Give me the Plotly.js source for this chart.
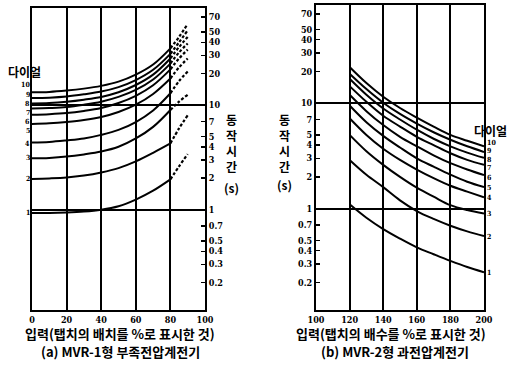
<!DOCTYPE html>
<html><head><meta charset="utf-8">
<script src="https://cdn.plot.ly/plotly-3.0.1.min.js"></script>
<style>body{margin:0;background:#fff}#c{width:512px;height:374px}</style>
</head><body><div id="c"></div>
<script>
// ---- data: (a) MVR-1 under-voltage relay ----
const leftX = [0, 10, 20, 30, 40, 50, 60, 70, 80];
const leftDashX = [80, 85, 90];
const dialNames = ['1','2','3','4','5','6','7','8','9','10'];
const L1  = [0.93, 0.93, 0.94, 0.96, 1.0, 1.08, 1.25, 1.52, 1.95];
const L2  = [1.97, 1.99, 2.03, 2.12, 2.27, 2.5, 2.9, 3.5, 4.3];
const L3  = [3.1, 3.13, 3.22, 3.38, 3.6, 4.0, 4.8, 6.2, 9];
const L4  = [4.4, 4.45, 4.6, 4.8, 5.2, 5.8, 6.9, 8.9, 13];
const L5  = [6.6, 6.7, 6.9, 7.2, 7.7, 8.6, 10.1, 12.8, 18];
const L6  = [8.1, 8.2, 8.4, 8.8, 9.4, 10.5, 12.3, 15.5, 22];
const L7  = [9.3, 9.4, 9.6, 10.1, 10.8, 12.0, 14.0, 17.6, 25];
const L8  = [10.4, 10.5, 10.8, 11.3, 12.0, 13.3, 15.6, 19.6, 28];
const L9  = [11.7, 11.8, 12.1, 12.7, 13.5, 14.9, 17.4, 21.8, 31];
const L10 = [13.3, 13.4, 13.8, 14.4, 15.3, 16.8, 19.6, 24.5, 35];
const LD1  = [1.95, 2.6, 3.4];
const LD2  = [4.3, 6.0, 8.0];
const LD3  = [9, 10.8, 12.6];
const LD4  = [13, 17, 21];
const LD5  = [18, 23, 28];
const LD6  = [22, 28, 34];
const LD7  = [25, 32, 39];
const LD8  = [28, 36, 45];
const LD9  = [31, 40, 52];
const LD10 = [35, 45, 60];
// ---- data: (b) MVR-2 over-voltage relay ----
const rightX = [120, 130, 140, 150, 160, 170, 180, 190, 200];
const R1  = [1.1, 0.82, 0.64, 0.52, 0.43, 0.37, 0.32, 0.28, 0.25];
const R2  = [2.9, 2.1, 1.6, 1.2, 0.95, 0.8, 0.69, 0.61, 0.55];
const R3  = [5.0, 3.5, 2.6, 2.0, 1.58, 1.3, 1.08, 0.97, 0.9];
const R4  = [7.2, 5.0, 3.7, 2.9, 2.35, 1.95, 1.65, 1.45, 1.28];
const R5  = [9.5, 6.6, 4.9, 3.8, 3.0, 2.5, 2.1, 1.8, 1.6];
const R6  = [12, 8.4, 6.2, 4.8, 3.9, 3.2, 2.7, 2.35, 2.08];
const R7  = [14.5, 10.3, 7.6, 6.0, 4.8, 4.0, 3.35, 2.9, 2.6];
const R8  = [17, 12, 8.9, 7.0, 5.6, 4.6, 3.9, 3.4, 3.03];
const R9  = [19, 13.6, 10.1, 7.9, 6.4, 5.3, 4.5, 3.9, 3.45];
const R10 = [22, 15.5, 11.5, 9.0, 7.3, 6.0, 5.0, 4.4, 3.9];
const yTickVals = [0.2, 0.3, 0.4, 0.5, 0.7, 1, 2, 3, 4, 5, 7, 10, 20, 30, 40, 50, 70];
const yTickText = ['0.2','0.3','0.4','0.5','0.7','1','2','3','4','5','7','10','20','30','40','50','70'];
const leftXTicks = [0, 20, 40, 60, 80, 100];
const rightXTicks = [100, 120, 140, 160, 180, 200];

// label spreading offsets (pixels, up = positive), dial 1..10
const leftLabelShift  = [0, 0, 1, -1, -6, -7, -4, 0, 4, 8];
const rightLabelShift = [0, 0, 0, 0, 0, -2, -3, -2, 1, 4];

const leftSolid = [L1,L2,L3,L4,L5,L6,L7,L8,L9,L10];
const leftDash = [LD1,LD2,LD3,LD4,LD5,LD6,LD7,LD8,LD9,LD10];
const rightSolid = [R1,R2,R3,R4,R5,R6,R7,R8,R9,R10];

const traces = [];
leftSolid.forEach(s => traces.push({x:leftX, y:s, xaxis:'x', yaxis:'y', mode:'lines',
  line:{color:'#000', width:2, shape:'spline'}, hoverinfo:'skip', showlegend:false}));
leftDash.forEach(s => traces.push({x:leftDashX, y:s, xaxis:'x', yaxis:'y', mode:'lines',
  line:{color:'#000', width:2.2, dash:'3px,2px', shape:'spline'}, hoverinfo:'skip', showlegend:false}));
rightSolid.forEach(s => traces.push({x:rightX, y:s, xaxis:'x2', yaxis:'y2', mode:'lines',
  line:{color:'#000', width:2, shape:'spline'}, hoverinfo:'skip', showlegend:false}));

const lblFont = {family:'DejaVu Serif Condensed, DejaVu Serif, serif', size:7, color:'#000', weight:'bold'};
const tickFont = {family:'DejaVu Serif Condensed, DejaVu Serif, serif', size:9, color:'#000', weight:'bold'};
const axisLine = {showline:true, mirror:true, linecolor:'#000', linewidth:2, zeroline:false};
const yBase = Object.assign({type:'log', range:[-0.96, 1.93], tickmode:'array', tickvals:yTickVals,
  ticktext:yTickText, ticks:'inside', ticklen:4, tickwidth:1.5, tickcolor:'#000', showgrid:false,
  tickfont:tickFont, minor:{tickmode:'array', tickvals:[1,10], showgrid:true, gridcolor:'#000', gridwidth:2, ticks:''}}, axisLine);
const xBase = Object.assign({tickmode:'array', showgrid:true, gridcolor:'#000', gridwidth:2, ticks:'',
  tickfont:tickFont}, axisLine);

const dialAnnots = [];
leftSolid.forEach((s, i) => dialAnnots.push({x:leftX[0], y:Math.log10(s[0]), xref:'x', yref:'y',
  text:dialNames[i], showarrow:false, xanchor:'right', yanchor:'middle', xshift:-1, yshift:leftLabelShift[i],
  font:lblFont, borderpad:0}));
rightSolid.forEach((s, i) => dialAnnots.push({x:rightX[rightX.length-1], y:Math.log10(s[s.length-1]), xref:'x2', yref:'y2',
  text:dialNames[i], showarrow:false, xanchor:'left', yanchor:'middle', xshift:2, yshift:rightLabelShift[i],
  font:lblFont, borderpad:0}));

const kr = {family:'Noto Sans CJK KR', size:12, color:'#000', weight:'bold'};
const krBig = {family:'Noto Sans CJK KR', size:13, color:'#000', weight:'bold'};
const layout = {
  width:512, height:374, margin:{l:0, r:0, t:0, b:0},
  paper_bgcolor:'#fff', plot_bgcolor:'#fff', showlegend:false,
  xaxis: Object.assign({}, xBase, {domain:[32/512, 205/512], range:[0,100], tickvals:leftXTicks, anchor:'y'}),
  yaxis: Object.assign({}, yBase, {domain:[1-310/374, 1-8/374], side:'right', anchor:'x'}),
  xaxis2: Object.assign({}, xBase, {domain:[316/512, 484/512], range:[100,200], tickvals:rightXTicks, anchor:'y2'}),
  yaxis2: Object.assign({}, yBase, {domain:[1-310/374, 1-5/374], side:'left', anchor:'x2'}),
  annotations: dialAnnots.concat([
    {text:'다이얼', x:24/512, y:1-71/374, xref:'paper', yref:'paper', showarrow:false, font:kr, xanchor:'center', yanchor:'middle'},
    {text:'다이얼', x:490/512, y:1-130/374, xref:'paper', yref:'paper', showarrow:false, font:kr, xanchor:'center', yanchor:'middle'},
    {text:'동<br>작<br>시<br>간', x:231/512, y:1-143/374, xref:'paper', yref:'paper', showarrow:false, font:kr, xanchor:'center', yanchor:'middle'},
    {text:'(s)', x:231/512, y:1-187/374, xref:'paper', yref:'paper', showarrow:false, font:kr, xanchor:'center', yanchor:'middle'},
    {text:'동<br>작<br>시<br>간', x:284/512, y:1-143/374, xref:'paper', yref:'paper', showarrow:false, font:kr, xanchor:'center', yanchor:'middle'},
    {text:'(s)', x:284/512, y:1-184/374, xref:'paper', yref:'paper', showarrow:false, font:kr, xanchor:'center', yanchor:'middle'},
    {text:'입력(탭치의 배치를 %로 표시한 것)', x:120/512, y:1-333/374, xref:'paper', yref:'paper', showarrow:false, font:krBig, xanchor:'center', yanchor:'middle'},
    {text:'(a) MVR-1형 부족전압계전기', x:120/512, y:1-351/374, xref:'paper', yref:'paper', showarrow:false, font:krBig, xanchor:'center', yanchor:'middle'},
    {text:'입력(탭치의 배수를 %로 표시한 것)', x:391/512, y:1-333/374, xref:'paper', yref:'paper', showarrow:false, font:krBig, xanchor:'center', yanchor:'middle'},
    {text:'(b) MVR-2형 과전압계전기', x:395/512, y:1-351/374, xref:'paper', yref:'paper', showarrow:false, font:krBig, xanchor:'center', yanchor:'middle'}
  ])
};
Plotly.newPlot('c', traces, layout, {staticPlot:true, displayModeBar:false});
</script></body></html>
